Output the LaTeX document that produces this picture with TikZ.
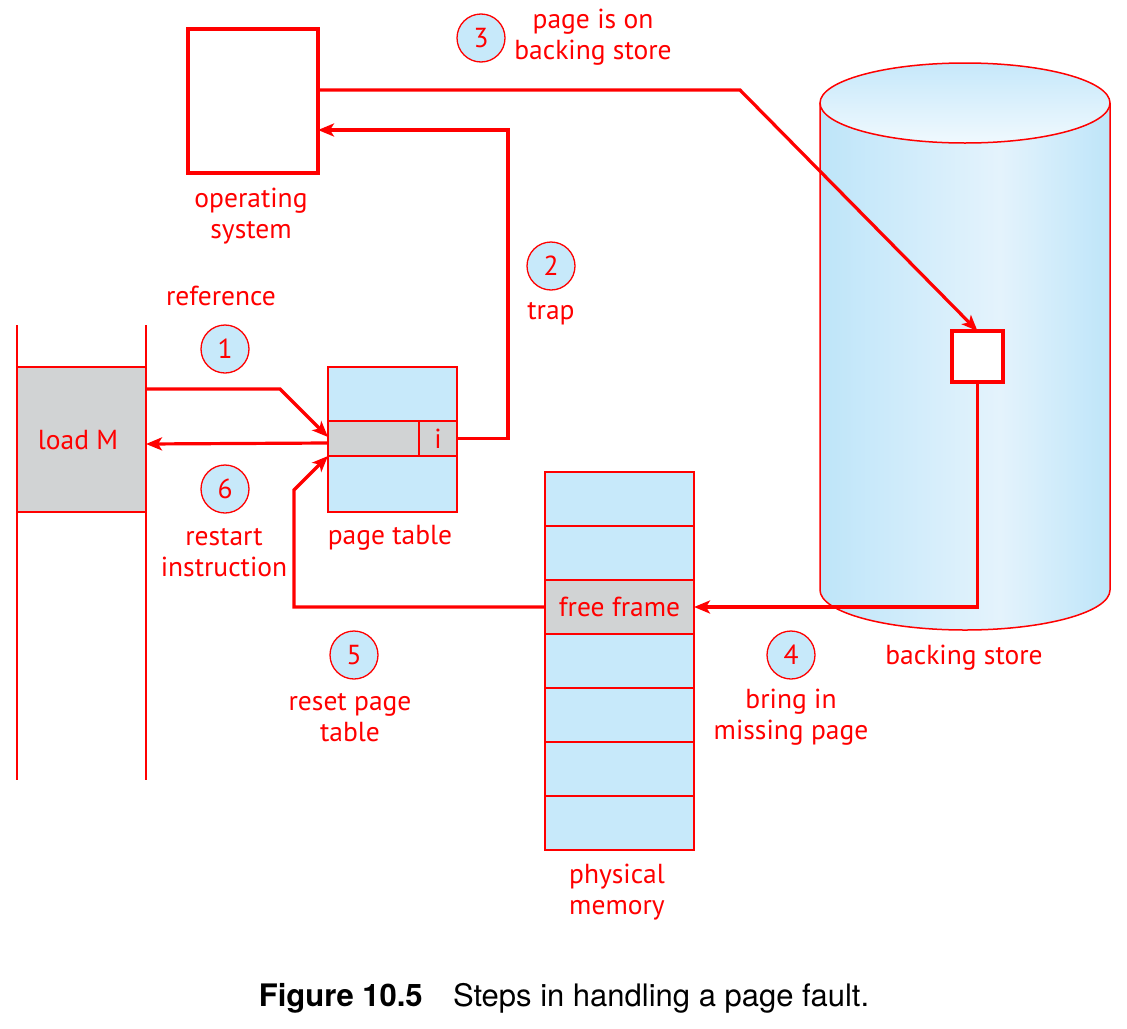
\documentclass[tikz,border=0pt]{standalone}
\usepackage{fontspec}
\setmainfont{PT Sans}
\newfontfamily\capfont{TeX Gyre Heros}
\usetikzlibrary{arrows.meta,calc}
\definecolor{myred}{RGB}{255,0,0}
\definecolor{ltblue}{RGB}{199,233,250}
\definecolor{grayc}{RGB}{209,211,212}
\definecolor{cylA}{RGB}{190,229,249}
\definecolor{cylB}{RGB}{228,243,252}
\definecolor{topA}{RGB}{198,232,250}
\definecolor{topB}{RGB}{240,249,254}
\pgfdeclarehorizontalshading{cylside}{100bp}{color(0bp)=(cylA); color(25bp)=(cylA); color(56bp)=(cylB); color(75bp)=(cylA); color(100bp)=(cylA)}
\pgfdeclareverticalshading{cyltop}{100bp}{color(0bp)=(topB); color(25bp)=(topB); color(75bp)=(topA); color(100bp)=(topA)}
\tikzset{
  lbl/.style={text=myred, font=\fontsize{27.5}{31}\selectfont, align=center, inner sep=0pt},
  num/.style={circle, draw=myred, line width=1.3pt, fill=ltblue, minimum size=48pt, inner sep=0pt, text=myred, font=\fontsize{27.5}{31}\selectfont},
  arr/.style={draw=myred, line width=3.2pt, -{Stealth[length=16pt, width=13pt, inset=4pt]}},
  thinbox/.style={draw=myred, line width=1.5pt, inner sep=0pt, outer sep=0pt},
  thickbox/.style={draw=myred, line width=3.2pt, fill=white, inner sep=0pt, outer sep=0pt},
  thinline/.style={draw=myred, line width=1.5pt},
}
\begin{document}
\begin{tikzpicture}[x=1pt, y=-1pt]
\useasboundingbox (0,0) rectangle (1127,1028);
% backing store cylinder
\shade[shading=cylside] (820,103) -- (820,590) arc[start angle=180, end angle=360, x radius=145pt, y radius=40pt] -- (1110,103) -- cycle;
\draw[thinline] (820,103) -- (820,590) arc[start angle=180, end angle=360, x radius=145pt, y radius=40pt] -- (1110,103);
\shade[shading=cyltop] (965,103) ellipse [x radius=145pt, y radius=40pt];
\draw[thinline] (965,103) ellipse [x radius=145pt, y radius=40pt];
\node[thickbox, minimum width=51pt, minimum height=51pt] (sb) at (977.5,356.5) {};
\node[lbl] (bslbl) at (964,658) {backing store};

% operating system
\node[thickbox, minimum width=130pt, minimum height=144pt] (os) at (253,101) {};
\node[lbl] (oslbl) at (251,216) {operating\\system};

% program
\coordinate (pl1) at (17,325);
\coordinate (pl2) at (17,780);
\coordinate (pr1) at (146,325);
\coordinate (pr2) at (146,780);
\draw[thinline] (pl1) -- (pl2);
\draw[thinline] (pr1) -- (pr2);
\node[thinbox, fill=grayc, minimum width=129pt, minimum height=145pt] (loadm) at (81.5,439.5) {};
\node[lbl] (loadlbl) at (78,440) {load M};
\node[lbl] (reflbl) at (221,296) {reference};

% page table
\node[thinbox, fill=ltblue, minimum width=129pt, minimum height=54pt, anchor=north west] (pgtop) at (328,367) {};
\node[thinbox, fill=grayc, minimum width=91pt, minimum height=35pt, anchor=north west] (pgmid) at (328,421) {};
\node[thinbox, fill=grayc, minimum width=38pt, minimum height=35pt, anchor=north west] (icell) at (419,421) {};
\node[lbl] at (icell.center) {i};
\node[thinbox, fill=ltblue, minimum width=129pt, minimum height=56pt, anchor=north west] (pgbot) at (328,456) {};
\node[lbl] (ptlbl) at (390,538) {page table};

% physical memory
\foreach \k in {0,...,6} {
  \node[thinbox, fill=ltblue, minimum width=149pt, minimum height=54pt, anchor=north west] (m\k) at (545,472+54*\k) {};
}
\node[thinbox, fill=grayc, minimum width=149pt, minimum height=54pt, anchor=north west] (ff) at (545,580) {};
\node[lbl] at (ff.center) {free frame};
\node[lbl] (pmlbl) at (617,892) {physical\\memory};

% step circles and labels
\node[num] (n1) at (225,349) {1};
\node[num] (n2) at (551,266) {2};
\node[num] (n3) at (481,38) {3};
\node[num] (n4) at (791,655) {4};
\node[num] (n5) at (354,655) {5};
\node[num] (n6) at (225,489) {6};
\node[lbl] (l2) at (551,314) {trap};
\node[lbl] (l3) at (593,37) {page is on\\backing store};
\node[lbl] (l4) at (791,717) {bring in\\missing page};
\node[lbl] (l5) at (350,718) {reset page\\table};
\node[lbl] (l6) at (224,553) {restart\\instruction};

% connectors
\coordinate (c1) at (280,389);
\draw[arr] ([yshift=50.5pt]loadm.east) -- (c1) -- ([yshift=1.5pt]pgmid.west);
\draw[arr] ([yshift=-4.5pt]pgmid.west) -- ([yshift=-4.5pt]loadm.east);
\coordinate (c2) at (508,130);
\draw[arr] (icell.east) -| (c2) -- ([yshift=-29pt]os.east);
\coordinate (c3) at (740,90);
\draw[arr] ([yshift=11pt]os.east) -- (c3) -- (sb.north);
\draw[arr] (sb.south) |- (ff.east);
\coordinate (c5) at (294,490);
\draw[arr] (ff.west) -| (c5) -- (pgbot.north west);

% caption
\node[font=\capfont\fontsize{31}{34}\selectfont, text=black, inner sep=0pt] (cap) at (564,998) {\textbf{Figure 10.5}\hspace{0.7em} Steps in handling a page fault.};
\end{tikzpicture}
\end{document}
